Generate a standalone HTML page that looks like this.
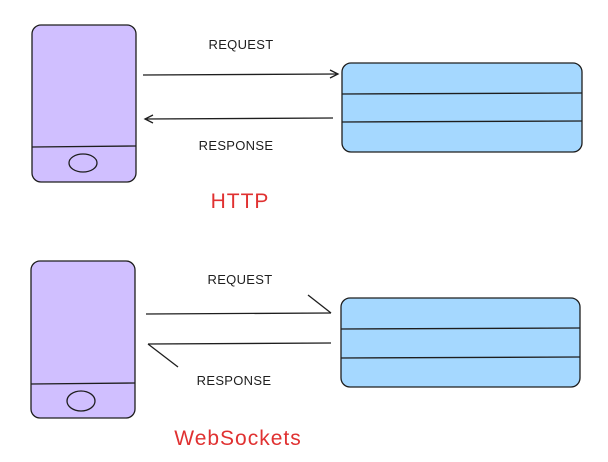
<!DOCTYPE html>
<html><head><meta charset="utf-8"><style>
html,body{margin:0;padding:0;background:#fff;}
svg{display:block}
text{font-family:"Liberation Sans",sans-serif;}
</style></head><body>
<svg width="608" height="462" viewBox="0 0 608 462" xmlns="http://www.w3.org/2000/svg">
<g stroke="#1e1e1e" stroke-width="1.3" fill="none">
<rect x="32" y="25" width="104" height="157" rx="9" fill="#d0bfff"/>
<line x1="32" y1="147" x2="136" y2="146"/>
<ellipse cx="83" cy="163" rx="14" ry="9"/>
<rect x="342" y="63" width="240" height="89" rx="9" fill="#a5d8ff"/>
<line x1="342" y1="94" x2="582" y2="93"/>
<line x1="342" y1="122" x2="582" y2="121"/>
<line x1="143" y1="75" x2="338" y2="74"/>
<polyline points="330,70 338,74 330,78"/>
<line x1="333" y1="118" x2="145" y2="119"/>
<polyline points="153,115 145,119 153,123"/>
<rect x="31" y="261" width="104" height="157" rx="9" fill="#d0bfff"/>
<line x1="31" y1="384" x2="135" y2="383"/>
<ellipse cx="81" cy="401" rx="14" ry="10"/>
<rect x="341" y="298" width="239" height="89" rx="9" fill="#a5d8ff"/>
<line x1="341" y1="329" x2="580" y2="328"/>
<line x1="341" y1="358" x2="580" y2="357"/>
<line x1="146" y1="314" x2="331" y2="313"/>
<line x1="308" y1="295" x2="331" y2="313"/>
<line x1="331" y1="343" x2="148" y2="344"/>
<line x1="148" y1="344" x2="178" y2="367"/>
</g>
<g fill="#1e1e1e" font-size="13" text-anchor="middle" letter-spacing="0.3">
<text x="241" y="49">REQUEST</text>
<text x="236" y="150">RESPONSE</text>
<text x="240" y="284">REQUEST</text>
<text x="234" y="385">RESPONSE</text>
</g>
<g fill="#e03131" font-size="21" text-anchor="middle" letter-spacing="1">
<text x="240" y="208">HTTP</text>
<text x="238" y="445">WebSockets</text>
</g>
</svg>
</body></html>
